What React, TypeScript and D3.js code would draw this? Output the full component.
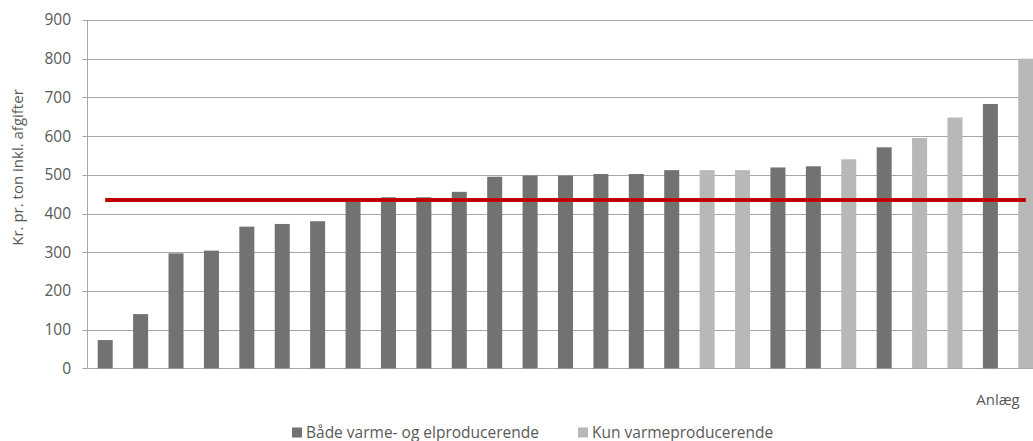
import React, { useEffect, useRef } from "react";
import * as d3 from "d3";

// one bar per plant, sorted by price
const plants = d3.range(1, 28).map(String);
const prices = [
  73, 140, 297, 304, 366, 373, 380, 433, 442, 442, 456, 495, 498, 498, 502,
  502, 512, 512, 512, 519, 522, 540, 571, 595, 648, 683, 800,
];
// "both" = Både varme- og elproducerende, "heat" = Kun varmeproducerende
const plantTypes = [
  "both", "both", "both", "both", "both", "both", "both", "both", "both",
  "both", "both", "both", "both", "both", "both", "both", "both", "heat",
  "heat", "both", "both", "heat", "both", "heat", "heat", "both", "heat",
];
const average = 435;
const yTicks = [0, 100, 200, 300, 400, 500, 600, 700, 800, 900];
const legendLabels = ["Både varme- og elproducerende", "Kun varmeproducerende"];

const width = 1033;
const height = 441;
const font = "'Open Sans', sans-serif";
const textColor = "#595959";
const colors: Record<string, string> = { both: "#727272", heat: "#b8b8b8" };

const App = () => {
  const svgRef = useRef<SVGSVGElement>(null);

  useEffect(() => {
    document.body.style.margin = "0";
    const svg = d3.select(svgRef.current);
    svg.selectAll("*").remove();

    const left = 87.5;
    const plotW = 956; // runs past the right edge, like the original
    const x = d3
      .scaleBand()
      .domain(plants)
      .range([left, left + plotW])
      .paddingInner(0.576)
      .paddingOuter(0.288);

    const y = d3.scaleLinear().domain([0, 900]).range([368.3, 20]);

    // gridlines + ticks
    svg
      .append("g")
      .selectAll("line")
      .data(yTicks)
      .enter()
      .append("line")
      .attr("x1", left - 5)
      .attr("x2", width)
      .attr("y1", (d) => Math.round(y(d)) + 0.5)
      .attr("y2", (d) => Math.round(y(d)) + 0.5)
      .attr("stroke", "#a6a6a6")
      .attr("stroke-width", 1);

    svg
      .append("line")
      .attr("x1", left)
      .attr("x2", left)
      .attr("y1", y(900))
      .attr("y2", y(0))
      .attr("stroke", "#a6a6a6");

    svg
      .append("g")
      .selectAll("text")
      .data(yTicks)
      .enter()
      .append("text")
      .attr("x", 71)
      .attr("y", (d) => y(d))
      .attr("dy", "0.35em")
      .attr("text-anchor", "end")
      .style("font-family", font)
      .style("font-size", "15.5px")
      .style("fill", textColor)
      .text((d) => d);

    // bars
    svg
      .append("g")
      .selectAll("rect")
      .data(prices)
      .enter()
      .append("rect")
      .attr("x", (d, i) => x(plants[i]) as number)
      .attr("y", (d) => y(d))
      .attr("width", x.bandwidth())
      .attr("height", (d) => y(0) - y(d))
      .attr("fill", (d, i) => colors[plantTypes[i]]);

    // average line, from first to last bar centre
    const half = x.bandwidth() / 2;
    svg
      .append("line")
      .attr("x1", (x(plants[0]) as number) + half)
      .attr("x2", (x(plants[plants.length - 1]) as number) + half)
      .attr("y1", y(average))
      .attr("y2", y(average))
      .attr("stroke", "#c00000")
      .attr("stroke-width", 4);

    // axis titles
    svg
      .append("text")
      .attr("transform", "translate(23,167.5) rotate(-90)")
      .attr("text-anchor", "middle")
      .style("font-family", font)
      .style("font-size", "15px")
      .style("fill", textColor)
      .text("Kr. pr. ton inkl. afgifter");

    svg
      .append("text")
      .attr("x", 998)
      .attr("y", 405)
      .attr("text-anchor", "middle")
      .style("font-family", font)
      .style("font-size", "15px")
      .style("fill", textColor)
      .text("Anlæg");

    // legend
    const legendX = [292, 578];
    const legend = svg
      .append("g")
      .selectAll("g")
      .data(legendLabels)
      .enter()
      .append("g")
      .attr("transform", (d, i) => `translate(${legendX[i]},0)`);
    legend
      .append("rect")
      .attr("y", 427.5)
      .attr("width", 10)
      .attr("height", 10)
      .attr("fill", (d, i) => colors[i === 0 ? "both" : "heat"]);
    legend
      .append("text")
      .attr("x", 14)
      .attr("y", 437.5)
      .style("font-family", font)
      .style("font-size", "15.5px")
      .style("fill", textColor)
      .text((d) => d);
  }, []);

  return (
    <svg
      ref={svgRef}
      width={width}
      height={height}
      style={{ display: "block", background: "#fff" }}
    ></svg>
  );
};

export default App;
